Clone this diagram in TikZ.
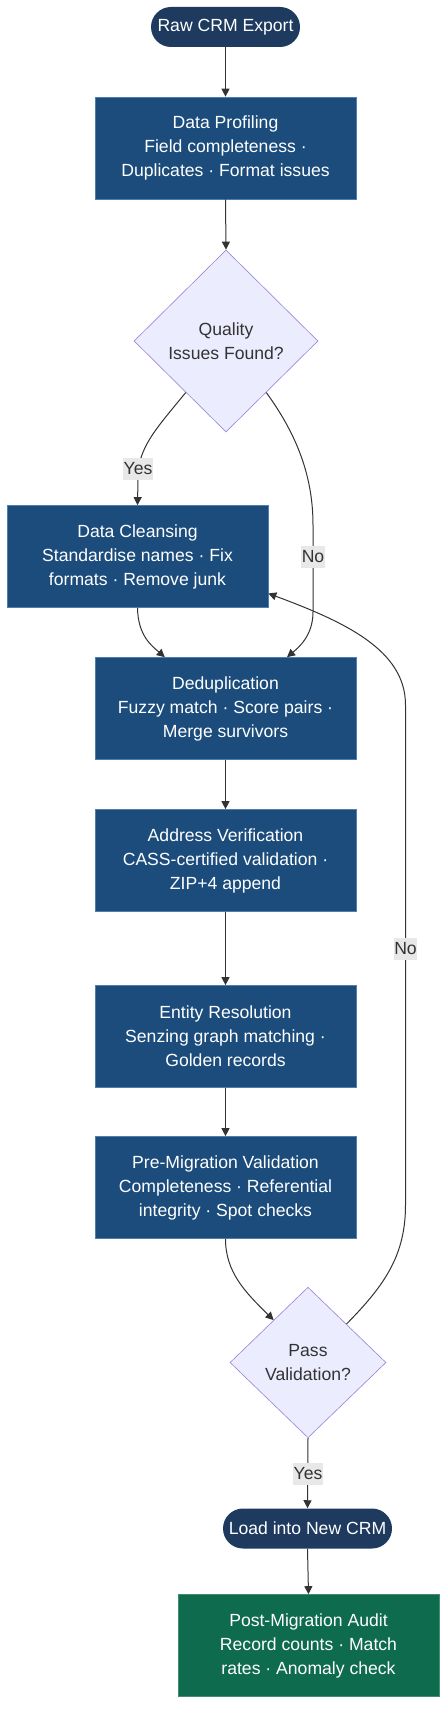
\documentclass[tikz,border=0pt]{standalone}
\usepackage{fontspec}
\setmainfont{Liberation Sans}
\usetikzlibrary{shapes.geometric,arrows.meta,calc}
\definecolor{navy}{HTML}{1E3A5F}
\definecolor{procblue}{HTML}{1B4C7C}
\definecolor{procedge}{HTML}{4F7FAF}
\definecolor{auditgreen}{HTML}{0E6B4D}
\definecolor{auditedge}{HTML}{3F8F6F}
\definecolor{decfill}{HTML}{ECECFF}
\definecolor{decedge}{HTML}{9F8AD6}
\definecolor{dectext}{HTML}{333333}
\definecolor{labelbg}{HTML}{E8E8E8}
\definecolor{edge}{HTML}{333333}
\begin{document}
\begin{tikzpicture}[x=0.75pt,y=-0.75pt,
  font=\fontsize{13.2}{18}\selectfont,
  term/.style={rectangle, rounded corners=15pt, fill=navy, text=white,
    minimum height=30pt, inner sep=0pt},
  proc/.style={rectangle, fill=procblue, draw=procedge, line width=0.5pt,
    text=white, minimum width=195.75pt, minimum height=76.5pt,
    align=center, inner sep=0pt},
  audit/.style={proc, fill=auditgreen, draw=auditedge},
  dec/.style={diamond, aspect=1, fill=decfill, draw=decedge, line width=0.5pt,
    text=dectext, align=center, inner sep=0pt},
  elabel/.style={fill=labelbg, text=dectext, inner xsep=0.3pt, inner ysep=0pt,
    minimum height=16.5pt},
  arr/.style={draw=edge, line width=0.75pt, -{Triangle[length=6pt,width=6pt]}}]
\useasboundingbox (0,0) rectangle (446,1719);

\node[term, minimum width=111.75pt] (raw) at (225.5,27) {Raw CRM Export};
\node[proc] (dp) at (225.5,148) {Data Profiling\\Field completeness ·\\Duplicates · Format issues};
\node[dec, minimum width=138pt, minimum height=136.5pt] (q) at (226,341) {Quality\\Issues Found?};
\node[proc] (dc) at (137.5,556.5) {Data Cleansing\\Standardise names · Fix\\formats · Remove junk};
\node[proc] (dd) at (225.5,708.5) {Deduplication\\Fuzzy match · Score pairs ·\\Merge survivors};
\node[proc] (av) at (225.5,860.5) {Address Verification\\CASS-certified validation ·\\ZIP+4 append};
\node[proc] (er) at (225.5,1036.5) {Entity Resolution\\Senzing graph matching ·\\Golden records};
\node[proc] (pm) at (225.5,1187.5) {Pre-Migration Validation\\Completeness · Referential\\integrity · Spot checks};
\node[dec, minimum width=117pt, minimum height=113pt] (p) at (308,1362.5) {Pass\\Validation?};
\node[term, minimum width=126.75pt] (load) at (307.5,1528.5) {Load into New CRM};
\node[audit] (pa) at (308.5,1645.5) {Post-Migration Audit\\Record counts · Match\\rates · Anomaly check};

% straight edges
\draw[arr] (raw.south) -- (dp.north);
\draw[arr] (dp.south) -- (q.north);
\draw[arr] (dd.south) -- (av.north);
\draw[arr] (av.south) -- (er.north);
\draw[arr] (er.south) -- (pm.north);
\draw[arr] (load.south) -- (pa.north);

% Yes from quality
\coordinate (ddl) at ($(dd.north west)!0.268!(dd.north east)$);
\coordinate (ddr) at ($(dd.north west)!0.735!(dd.north east)$);
\draw[arr] (q.232) .. controls (155,430) and (138,448) .. (138,478) -- (dc.north);
\node[elabel] (lyes1) at (138,469) {Yes};

% No from quality
\draw[arr] (q.308) .. controls (298,436) and (313,478) .. (313,525) -- (313,612)
  .. controls (313,636) and (298,648) .. (ddr);
\node[elabel] (lno1) at (313,556.5) {No};

% cleansing to dedup
\draw[arr] (dc.south) .. controls (138,636) and (152,646) .. (ddl);

% pre-migration to pass
\draw[arr] (pm.south) .. controls (225.5,1272) and (245,1292) .. (p.129);

% No loop back
\coordinate (dcr) at ($(dc.north east)!0.86!(dc.south east)$);
\draw[arr] (p.45) .. controls (385,1285) and (405.5,1255) .. (405.5,1205)
  -- (405.5,705) .. controls (405.5,650) and (345,622) .. (dcr);
\node[elabel] (lno2) at (405.5,949) {No};

% Yes from pass
\draw[arr] (p.south) -- (load.north);
\node[elabel] (lyes2) at (308,1474) {Yes};
\end{tikzpicture}
\end{document}
